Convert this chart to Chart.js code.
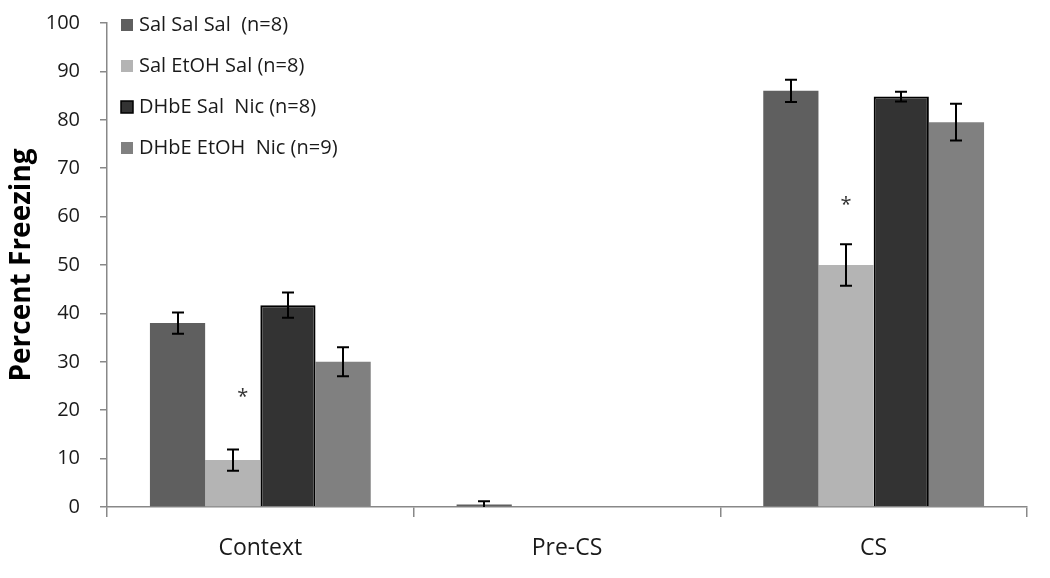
<!DOCTYPE html>
<html>
<head>
<meta charset="utf-8">
<script src="https://cdn.jsdelivr.net/npm/chart.js@4"></script>
<style>
  body { margin: 0; background: #fff; }
  #wrap { width: 1050px; height: 578px; position: relative; }
</style>
</head>
<body>
<div id="wrap"><canvas id="chart-area"></canvas></div>
<script>
// data
var categories = ['Context', 'Pre-CS', 'CS'];
var groupLabels = ['Sal Sal Sal  (n=8)', 'Sal EtOH Sal (n=8)', 'DHbE Sal  Nic (n=8)', 'DHbE EtOH  Nic (n=9)'];

var salSalSal = [38.0, 0.5, 86.0];
var salEtohSal = [9.7, 0, 50.0];
var dhbeSalNic = [41.7, 0, 84.8];
var dhbeEtohNic = [30.0, 0, 79.5];

var salSalSalErr = [2.2, 0.7, 2.3];
var salEtohSalErr = [2.2, 0, 4.3];
var dhbeSalNicErr = [2.6, 0, 1.0];
var dhbeEtohNicErr = [3.0, 0, 3.8];

// significance marks: category index, dataset index, value
var starCats = [0, 2];
var starSets = [1, 1];
var starValues = [23.5, 63.2];

var yTicks = [0, 10, 20, 30, 40, 50, 60, 70, 80, 90, 100];

var errs = [salSalSalErr, salEtohSalErr, dhbeSalNicErr, dhbeEtohNicErr];
var fills = ['#5f5f5f', '#b4b4b4', '#333333', '#808080'];
var borders = ['#5f5f5f', '#b4b4b4', '#000000', '#808080'];
var borderWidths = [0, 0, 2, 0];
var starShift = [10, 0]; // the Context star sits a little right of its bar
var FONT = '"Open Sans", "DejaVu Sans", sans-serif';

var errorBars = {
  id: 'errorBars',
  afterDatasetsDraw: function(chart) {
    var ctx = chart.ctx;
    var y = chart.scales.y;
    var area = chart.chartArea;
    ctx.save();
    ctx.beginPath();
    ctx.rect(area.left, area.top - 10, area.right - area.left, area.bottom - area.top + 10);
    ctx.clip();
    ctx.strokeStyle = '#000';
    ctx.lineWidth = 2;
    chart.data.datasets.forEach(function(ds, i) {
      var meta = chart.getDatasetMeta(i);
      meta.data.forEach(function(bar, j) {
        var e = errs[i][j];
        if (!e) return;
        var v = ds.data[j];
        var top = y.getPixelForValue(v + e);
        var bot = y.getPixelForValue(v - e);
        var x = Math.round(bar.x);
        ctx.beginPath();
        ctx.moveTo(x, top); ctx.lineTo(x, bot);
        ctx.moveTo(x - 6, top); ctx.lineTo(x + 6, top);
        ctx.moveTo(x - 6, bot); ctx.lineTo(x + 6, bot);
        ctx.stroke();
      });
    });
    ctx.restore();

    // asterisks
    ctx.save();
    ctx.fillStyle = '#333';
    ctx.font = '20px ' + FONT;
    ctx.textAlign = 'center';
    ctx.textBaseline = 'middle';
    starCats.forEach(function(c, k) {
      var bar = chart.getDatasetMeta(starSets[k]).data[c];
      ctx.fillText('*', bar.x + starShift[k], y.getPixelForValue(starValues[k]) + 4);
    });
    ctx.restore();
  }
};

var sideLegend = {
  id: 'sideLegend',
  afterDraw: function(chart) {
    var ctx = chart.ctx;
    ctx.save();
    ctx.font = '20px ' + FONT;
    ctx.textBaseline = 'middle';
    ctx.textAlign = 'left';
    chart.data.datasets.forEach(function(ds, i) {
      var cy = 25 + i * 41;
      ctx.fillStyle = ds.backgroundColor;
      ctx.fillRect(121, cy - 6, 12, 12);
      if (ds.borderWidth) {
        ctx.strokeStyle = '#000';
        ctx.lineWidth = 1.5;
        ctx.strokeRect(121, cy - 6, 12, 12);
      }
      ctx.fillStyle = '#1a1a1a';
      ctx.fillText(ds.label, 139, cy);
    });
    ctx.restore();
  }
};

var ctx = document.getElementById('chart-area').getContext('2d');
var series = [salSalSal, salEtohSal, dhbeSalNic, dhbeEtohNic];

var config = {
  type: 'bar',
  data: {
    labels: categories,
    datasets: series.map(function(values, i) {
      return {
        label: groupLabels[i],
        data: values,
        backgroundColor: fills[i],
        borderColor: borders[i],
        borderWidth: borderWidths[i],
        barPercentage: 1,
        categoryPercentage: 0.72
      };
    })
  },
  options: {
    responsive: true,
    maintainAspectRatio: false,
    animation: false,
    layout: { padding: { top: 23, right: 23, left: 0, bottom: 0 } },
    plugins: {
      legend: { display: false },
      tooltip: { enabled: false }
    },
    scales: {
      x: {
        offset: true,
        grid: {
          offset: true,
          drawOnChartArea: false,
          drawTicks: true,
          tickLength: 10,
          color: '#888',
          lineWidth: 1.5
        },
        border: { color: '#888', width: 1.5 },
        ticks: {
          color: '#1a1a1a',
          padding: 18,
          font: { family: FONT, size: 23 }
        },
        afterFit: function(scale) { scale.height = 71; }
      },
      y: {
        min: 0,
        max: 100,
        afterBuildTicks: function(scale) {
          scale.ticks = yTicks.map(function(v) { return { value: v }; });
        },
        grid: {
          drawOnChartArea: false,
          drawTicks: true,
          tickLength: 7,
          color: '#888',
          lineWidth: 1.5
        },
        border: { color: '#888', width: 1.5 },
        ticks: {
          color: '#1a1a1a',
          padding: 20,
          font: { family: FONT, size: 20 }
        },
        title: {
          display: true,
          text: 'Percent Freezing',
          color: '#000',
          padding: { top: 5, bottom: 0 },
          font: { family: FONT, size: 28, weight: 'bold' }
        },
        afterFit: function(scale) {
          scale.width = 107;
          scale.paddingTop = 0;
          scale.paddingBottom = 0;
        }
      }
    }
  },
  plugins: [errorBars, sideLegend]
};

document.chart = new Chart(ctx, config);
</script>
</body>
</html>
